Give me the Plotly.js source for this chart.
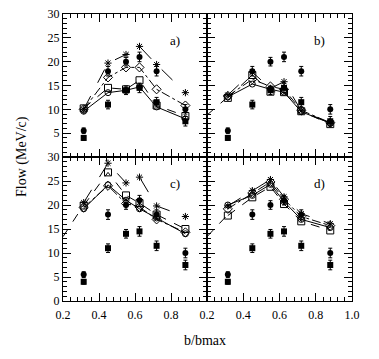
<!DOCTYPE html>
<html>
<head>
<meta charset="utf-8">
<script src="https://cdn.plot.ly/plotly-3.0.1.min.js"></script>
<style>html,body{margin:0;padding:0;background:#fff}#chart{width:379px;height:359px}</style>
</head>
<body>
<div id="chart"></div>
<script>
// impact parameter bins (b/bmax)
const xs = [0.315, 0.45, 0.55, 0.625, 0.72, 0.88];

// measured flow (filled symbols), same in every panel
const dataCircle = [5.5, 18, 20, 21, 18, 10];
const dataSquare = [4, 11, 14, 14.5, 11.5, 7.5];
const errCircle = [0.6, 1, 0.9, 1, 1, 1];
const errSquare = [0.5, 0.9, 0.9, 1, 1, 1];

// model curves, panel a)
const aStar = [10, 19.7, 21.5, 23.2, 19.4, 13.5];
const aDiamond = [10, 16.7, 18.8, 18.8, 14.2, 10.8];
const aSquare = [10.2, 14.5, 14.2, 16.1, 10.8, 8.6];
const aCircle = [9.6, 13.5, 14, 14.7, 10.5, 8];

// panel b)
const bStar = [13, 17.8, 14.4, 15.8, 9.7, 7.1];
const bDiamond = [12.8, 16.3, 14.8, 14.2, 9.8, 7.2];
const bSquare = [12.4, 17.2, 13.7, 13.6, 9.6, 6.9];
const bCircle = [12.6, 15.3, 14.2, 13.6, 9.5, 7.1];

// panel c)
const cStar = [20.5, 28.7, 24.6, 25.8, 19.8, 17.6];
const cSquare = [19.9, 26.8, 22, 20.4, 18, 15];
const cCircle = [19.2, 24.2, 21, 19.2, 17.3, 14];
const cDiamond = [19.5, 24, 20.3, 19.6, 17, 14.3];

// panel d)
const dStar = [19.8, 23, 25.3, 21.7, 18.2, 16.1];
const dDiamond = [19.2, 22.5, 24.8, 21.2, 17.6, 15.7];
const dCircle = [20, 22, 24.3, 20.7, 17, 15.3];
const dSquare = [17.8, 21.6, 23.8, 20.2, 16.6, 14.7];

// dashed lead-in from the left edge (panels b, c, d)
const extX = [0.2, 0.315];
const bExt = [8.8, 12.6];
const cExt = [13.4, 20];
const dExt = [13.4, 18];

const K = '#000';
const font = 'Liberation Serif, Times New Roman, serif';

function model(ax, y, sym, dash, size) {
  return {x: xs, y, xaxis: 'x' + ax, yaxis: 'y' + ax, type: 'scatter', mode: 'lines+markers',
    line: {color: K, width: 1, dash}, marker: {symbol: sym, size, color: K, line: {color: K, width: 1}}};
}
function meas(ax, y, err, sym) {
  return {x: xs, y, xaxis: 'x' + ax, yaxis: 'y' + ax, type: 'scatter', mode: 'markers',
    marker: {symbol: sym, size: 6, color: K},
    error_y: {type: 'data', array: err, color: K, thickness: 1, width: 2}};
}
function ext(ax, y) {
  return {x: extX, y, xaxis: 'x' + ax, yaxis: 'y' + ax, type: 'scatter', mode: 'lines',
    line: {color: K, width: 1, dash: 'dash'}};
}

const panels = [
  ['', [aStar, aDiamond, aSquare, aCircle], null],
  ['2', [bStar, bDiamond, bSquare, bCircle], bExt],
  ['3', [cStar, cDiamond, cSquare, cCircle], cExt],
  ['4', [dStar, dDiamond, dSquare, dCircle], dExt]
];
const syms = ['asterisk-open', 'diamond-open', 'square-open', 'circle-open'];
const dashes = ['longdash', 'dashdot', 'dash', 'solid'];
const sizes = [6, 7, 7, 6];

const traces = [];
panels.forEach(([ax, curves, e]) => {
  if (e) traces.push(ext(ax, e));
  curves.forEach((c, i) => traces.push(model(ax, c, syms[i], dashes[i], sizes[i])));
  traces.push(meas(ax, dataCircle, errCircle, 'circle'));
  traces.push(meas(ax, dataSquare, errSquare, 'square'));
});

const W = 379, H = 359;
const colL = [63 / W, 207 / W], colR = [207 / W, 352 / W];
const rowT = [1 - 157 / H, 1 - 14 / H], rowB = [1 - 301 / H, 1 - 157 / H];

function xax(domain, anchor, vals) {
  return {domain, anchor, range: [0.2, 1.0], showline: true, linecolor: K, linewidth: 1, mirror: 'ticks',
    ticks: 'inside', ticklen: 8, tickcolor: K, tickvals: vals || [0.2, 0.4, 0.6, 0.8, 1.0],
    showticklabels: !!vals, showgrid: false, zeroline: false, tickformat: '.1f', ticklabelstandoff: 3,
    tickfont: {family: font, size: 12, color: K},
    minor: {dtick: 0.04, tick0: 0.2, ticklen: 4, ticks: 'inside', tickcolor: K, showgrid: false}};
}
function yax(domain, anchor, vals) {
  return {domain, anchor, range: [0, 30], showline: true, linecolor: K, linewidth: 1, mirror: 'ticks',
    ticks: 'inside', ticklen: 8, tickcolor: K, tickvals: vals || [0, 5, 10, 15, 20, 25, 30],
    showticklabels: !!vals, showgrid: false, zeroline: false,
    tickfont: {family: font, size: 12, color: K},
    minor: {dtick: 1, ticklen: 4, ticks: 'inside', tickcolor: K, showgrid: false}};
}

const lab = (t, ax) => ({text: t, x: 0.82, y: 24.5, xref: 'x' + ax, yref: 'y' + ax, showarrow: false,
  font: {family: font, size: 13, color: K}});

const layout = {
  width: W, height: H, showlegend: false,
  margin: {l: 0, r: 0, t: 0, b: 0},
  paper_bgcolor: '#fff', plot_bgcolor: '#fff',
  xaxis: xax(colL, 'y'), yaxis: yax(rowT, 'x', [5, 10, 15, 20, 25, 30]),
  xaxis2: xax(colR, 'y2'), yaxis2: yax(rowT, 'x2'),
  xaxis3: xax(colL, 'y3', [0.2, 0.4, 0.6, 0.8]), yaxis3: yax(rowB, 'x3', [0, 5, 10, 15, 20, 25, 30]),
  xaxis4: xax(colR, 'y4', [0.2, 0.4, 0.6, 0.8, 1.0]), yaxis4: yax(rowB, 'x4'),
  annotations: [
    lab('a)', ''), lab('b)', '2'), lab('c)', '3'), lab('d)', '4'),
    {text: 'Flow (MeV/c)', x: 22 / W, y: 1 - 157 / H, xref: 'paper', yref: 'paper', textangle: -90,
      xanchor: 'center', yanchor: 'middle', showarrow: false, font: {family: font, size: 14, color: K}},
    {text: 'b/bmax', x: 205 / W, y: 1 - 340 / H, xref: 'paper', yref: 'paper',
      xanchor: 'center', yanchor: 'middle', showarrow: false, font: {family: font, size: 14, color: K}}
  ]
};

Plotly.newPlot('chart', traces, layout, {staticPlot: true, displayModeBar: false});
</script>
</body>
</html>
